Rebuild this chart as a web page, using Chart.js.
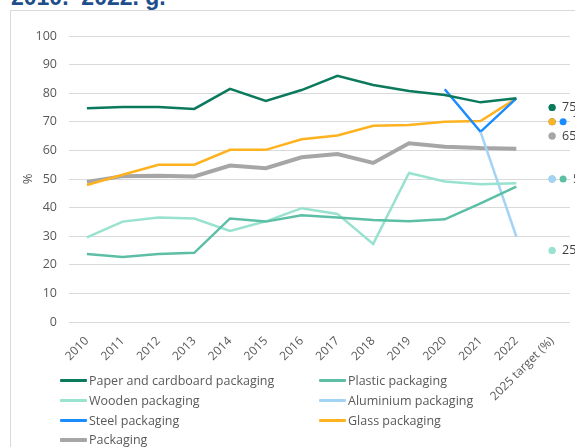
<!DOCTYPE html>
<html>
<head>
<meta charset="utf-8">
<script src="https://cdn.jsdelivr.net/npm/chart.js@4"></script>
<style>
  html, body { margin: 0; padding: 0; background: #fff; overflow: hidden; }
  body { width: 575px; height: 447px; position: relative; font-family: 'Open Sans', sans-serif; }
  .title { position: absolute; left: 11px; top: -16px; font: bold 23px 'Liberation Sans', Arial, sans-serif; color: #1f4e8c; white-space: nowrap; }
  .box { position: absolute; left: 10px; top: 10px; width: 640px; height: 520px; border: 1px solid #d9d9d9; }
  .wrap { position: absolute; left: 0; top: 0; width: 615px; height: 447px; }
  #legend { position: absolute; left: 60px; top: 371px; display: grid; grid-template-columns: 259px 259px; grid-auto-rows: 19.7px; }
  #legend .item { display: flex; align-items: center; font-size: 12.5px; color: #595959; white-space: nowrap; }
  #legend .key { width: 27px; margin-right: 2px; border-radius: 1px; }
</style>
</head>
<body>
<div class="title">2010.–2022. g.</div>
<div class="box"></div>
<div class="wrap"><canvas id="chart" width="615" height="447"></canvas></div>
<div id="legend"></div>
<script>
const years = ['2010', '2011', '2012', '2013', '2014', '2015', '2016', '2017', '2018', '2019', '2020', '2021', '2022'];
const targetLabel = '2025 target (%)';

const paper      = [74.7, 75.2, 75.2, 74.5, 81.5, 77.3, 81.1, 86.1, 82.9, 80.8, 79.4, 76.8, 78.2];
const plastic    = [23.8, 22.7, 23.8, 24.2, 36.2, 35.1, 37.3, 36.5, 35.7, 35.2, 35.9, 41.5, 47.3];
const wooden     = [29.6, 35.1, 36.5, 36.2, 31.8, 35.2, 39.8, 37.8, 27.3, 52.1, 49.1, 48.2, 48.5];
const aluminium  = [null, null, null, null, null, null, null, null, null, null, null, 66.5, 29.9];
const steel      = [null, null, null, null, null, null, null, null, null, null, 81.4, 66.5, 78.2];
const glass      = [47.9, 51.5, 55.0, 55.0, 60.2, 60.2, 63.9, 65.2, 68.6, 68.9, 70.0, 70.3, 78.2];
const packaging  = [49.0, 51.0, 51.1, 50.9, 54.7, 53.8, 57.6, 58.7, 55.6, 62.5, 61.3, 60.8, 60.6];

const seriesNames = ['Paper and cardboard packaging', 'Plastic packaging', 'Wooden packaging',
  'Aluminium packaging', 'Steel packaging', 'Glass packaging', 'Packaging'];
const targets = [75, 50, 25, 50, 70, 70, 65];
const colors = ['#0b7a5c', '#5cbfa5', '#98e2cf', '#a3d3f5', '#1a8cff', '#ffb21f', '#a6a6a6'];
const widths = [2.5, 2.5, 2.5, 2.5, 2.5, 2.5, 4];

const TARGET_IDX = years.length;

const datasets = [paper, plastic, wooden, aluminium, steel, glass, packaging].map((vals, i) => ({
  label: seriesNames[i],
  data: [...vals, targets[i]],
  borderColor: colors[i],
  backgroundColor: colors[i],
  borderWidth: widths[i],
  pointRadius: ctx => ctx.dataIndex === TARGET_IDX ? 3.5 : 0,
  pointHoverRadius: 0,
  pointBorderWidth: 0,
  tension: 0,
  spanGaps: false,
  segment: {
    borderColor: ctx => ctx.p1DataIndex === TARGET_IDX ? 'transparent' : undefined,
  },
}));

// draws the target dots side by side and the value labels
const targetLabels = {
  id: 'targetLabels',
  afterDatasetsDraw(chart) {
    const ctx = chart.ctx;
    const xs = chart.scales.x, ys = chart.scales.y;
    const groups = {};
    chart.data.datasets.forEach((ds, i) => {
      const v = ds.data[TARGET_IDX];
      (groups[v] = groups[v] || []).push(i);
    });
    ctx.save();
    Object.keys(groups).forEach(v => {
      const members = groups[v].sort((a, b) => b - a);
      const x0 = xs.getPixelForValue(TARGET_IDX);
      const y = ys.getPixelForValue(Number(v));
      members.forEach((i, k) => {
        ctx.beginPath();
        ctx.fillStyle = colors[i];
        ctx.arc(x0 + 11 * k, y, 3.5, 0, Math.PI * 2);
        ctx.fill();
      });
      ctx.fillStyle = '#404040';
      ctx.font = '12.5px "Open Sans", sans-serif';
      ctx.textBaseline = 'middle';
      ctx.textAlign = 'left';
      ctx.fillText(v, x0 + 11 * members.length - 1, y);
    });
    ctx.restore();
  }
};

const chart = new Chart(document.getElementById('chart'), {
  type: 'line',
  data: { labels: [...years, targetLabel], datasets },
  options: {
    responsive: false,
    animation: false,
    devicePixelRatio: 1,
    layout: { padding: { left: 14, top: 36, right: 45, bottom: 0 } },
    plugins: { legend: { display: false }, tooltip: { enabled: false } },
    scales: {
      x: {
        offset: true,
        grid: { display: false },
        border: { display: false },
        ticks: {
          minRotation: 45, maxRotation: 45, padding: 4,
          color: '#595959', font: { family: 'Open Sans', size: 12 },
        },
        afterFit: s => { s.height = 125; },
      },
      y: {
        min: 0, max: 100,
        grid: { color: '#d9d9d9', drawTicks: false },
        border: { display: false },
        ticks: { stepSize: 10, padding: 12, color: '#595959', font: { family: 'Open Sans', size: 12.5 } },
        title: { display: true, text: '%', color: '#595959', font: { family: 'Open Sans', size: 13 }, padding: { top: 6, bottom: 0 } },
        afterFit: s => { s.width = 55; },
      },
    },
  },
  plugins: [targetLabels],
});

// legend in two columns, built from the datasets
const legend = document.getElementById('legend');
chart.data.datasets.forEach(ds => {
  const item = document.createElement('div');
  item.className = 'item';
  const key = document.createElement('span');
  key.className = 'key';
  key.style.background = ds.borderColor;
  key.style.height = (ds.borderWidth + 0.5) + 'px';
  item.appendChild(key);
  item.appendChild(document.createTextNode(ds.label));
  legend.appendChild(item);
});
</script>
</body>
</html>
